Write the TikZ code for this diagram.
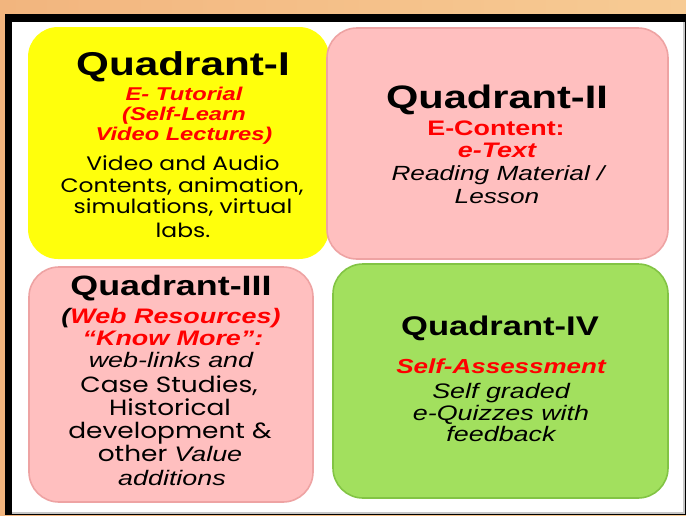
\documentclass[tikz,border=0pt]{standalone}
\usepackage{graphicx}
\usepackage{fontspec}
\newfontfamily\arialx{Liberation Sans}
\newfontfamily\gothx{Poppins}[FakeStretch=1.2]
\newcommand\hsx[1]{\scalebox{1.28}[1]{#1}}
\definecolor{bgL}{HTML}{F2B57E}
\definecolor{bgM}{HTML}{FCE6AE}
\definecolor{bgR}{HTML}{F7CB94}
\definecolor{qyellow}{HTML}{FFFF0C}
\definecolor{qpink}{HTML}{FFBFBF}
\definecolor{qpinkD}{HTML}{EEA3A3}
\definecolor{qgreen}{HTML}{A2E05E}
\definecolor{qgreenD}{HTML}{82C444}
\definecolor{qred}{HTML}{FF0000}
\tikzset{
  txt/.style={anchor=base,inner sep=0pt,text height=0.72em,text depth=0.16em},
  ttl/.style={txt,text=black,font=\arialx\bfseries\fontsize{#1}{#1}\selectfont},
  redsub/.style={txt,text=qred,font=\arialx\bfseries\itshape\fontsize{#1}{#1}\selectfont},
  redup/.style={txt,text=qred,font=\arialx\bfseries\fontsize{#1}{#1}\selectfont},
  itl/.style={txt,text=black,font=\arialx\itshape\fontsize{#1}{#1}\selectfont},
  goth/.style={txt,text=black,font=\gothx\fontsize{#1}{#1}\selectfont},
  quadbox/.style={rounded corners=30pt},
}
\begin{document}
\begin{tikzpicture}[x=1pt,y=-1pt]
\useasboundingbox (0,0) rectangle (686,515);
% background
\shade[left color=bgL, middle color=bgM, right color=bgR] (0,0) rectangle (686,515);
\fill[black] (5,14) rectangle (686,515);
\fill[white] (12,22) rectangle (684,513);
\draw[gray!45, line width=1.5pt] (684,22) -- (684,513) -- (12,513);
% quadrants
\fill[quadbox, qyellow] (28,27) rectangle (329,259);
\filldraw[quadbox, fill=qpink, draw=qpinkD, line width=1.6pt] (327,28) rectangle (668,259);
\filldraw[quadbox, fill=qpink, draw=qpinkD, line width=1.6pt] (29,267) rectangle (313,502);
\filldraw[quadbox, fill=qgreen, draw=qgreenD, line width=1.6pt] (333,264) rectangle (668,498);
% Quadrant I
\node[ttl=33] (q1t) at (183,75) {\hsx{Quadrant-I}};
\node[redsub=18.5] (q1a) at (184,100) {\hsx{E- Tutorial}};
\node[redsub=18.5] (q1b) at (184,120) {\hsx{(Self-Learn}};
\node[redsub=18.5] (q1c) at (184,140) {\hsx{Video Lectures)}};
\node[goth=19.5] (q1d) at (183,170) {Video and Audio};
\node[goth=19.5] (q1e) at (182,192) {Contents, animation,};
\node[goth=19.5] (q1f) at (183,213) {simulations, virtual};
\node[goth=19.5] (q1g) at (183,237) {labs.};
% Quadrant II
\node[ttl=32.5] (q2t) at (497,108) {\hsx{Quadrant-II}};
\node[redup=21] (q2a) at (496,135) {\hsx{E-Content:}};
\node[redsub=21] (q2b) at (497,157) {\hsx{e-Text}};
\node[itl=20.5] (q2c) at (498,180) {\hsx{Reading Material /}};
\node[itl=20.5] (q2d) at (497,203) {\hsx{Lesson}};
% Quadrant III
\node[ttl=28] (q3t) at (171,295) {\hsx{Quadrant-III}};
\node[redsub=21] (q3a) at (171,323) {\hsx{\textcolor{black}{(}Web Resources)}};
\node[redsub=21] (q3b) at (173,345) {\hsx{“Know More”:}};
\node[itl=21] (q3c) at (171,367) {\hsx{web-links and}};
\node[goth=22] (q3d) at (169,392) {Case Studies,};
\node[goth=22] (q3e) at (170,415) {Historical};
\node[goth=22] (q3f) at (170,438) {development \&};
\node[goth=22] (q3g) at (170,461) {other {\arialx\itshape\fontsize{21}{21}\selectfont\hsx{Value}}};
\node[itl=21] (q3h) at (172,485) {\hsx{additions}};
% Quadrant IV
\node[ttl=27] (q4t) at (500,335) {\hsx{Quadrant-IV}};
\node[redsub=20.3] (q4a) at (501,373) {\hsx{Self-Assessment}};
\node[itl=21] (q4b) at (501,398) {\hsx{Self graded}};
\node[itl=21] (q4c) at (501,420) {\hsx{e-Quizzes with}};
\node[itl=21] (q4d) at (501,441) {\hsx{feedback}};
\end{tikzpicture}
\end{document}
